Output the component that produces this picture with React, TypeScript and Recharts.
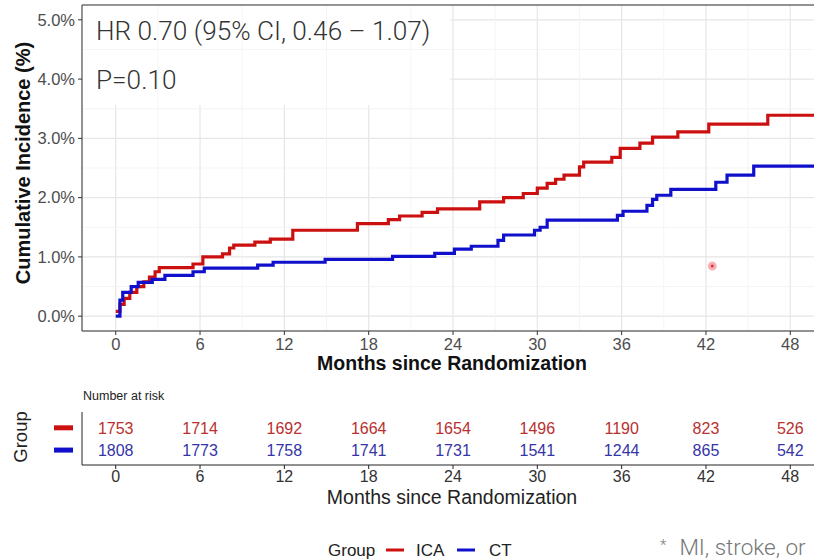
import React from 'react';
import {
  LineChart, Line, XAxis, YAxis, CartesianGrid, ReferenceLine, ReferenceArea, ReferenceDot,
  ScatterChart, Scatter,
} from 'recharts';

// ---------- data ----------
const monthTicks = [0, 6, 12, 18, 24, 30, 36, 42, 48];
const minorMonths = [3, 9, 15, 21, 27, 33, 39, 45];
const pctTicks = [0, 1, 2, 3, 4, 5];
const minorPct = [0.5, 1.5, 2.5, 3.5, 4.5];

const icaTimes = [0, 0.3, 0.6, 1.0, 1.5, 2.0, 2.4, 2.8, 3.1, 5.5, 6.2, 7.6, 8.1, 8.4, 9.9, 11.0, 12.6, 17.2, 19.4, 20.2, 21.8, 22.9, 25.9, 27.6, 29.0, 30.0, 30.7, 31.3, 31.9, 33.0, 33.3, 35.3, 35.9, 37.3, 38.2, 40.0, 42.2, 46.4, 50.4];
const icaValues = [0.08, 0.2, 0.3, 0.4, 0.5, 0.58, 0.66, 0.75, 0.82, 0.88, 1.0, 1.05, 1.15, 1.2, 1.25, 1.3, 1.45, 1.56, 1.63, 1.69, 1.75, 1.81, 1.93, 2.0, 2.07, 2.16, 2.24, 2.31, 2.38, 2.52, 2.6, 2.68, 2.83, 2.92, 3.02, 3.11, 3.24, 3.39, 3.39];

const ctTimes = [0, 0.3, 0.5, 1.1, 1.6, 2.6, 3.5, 5.5, 6.3, 10.1, 11.2, 14.9, 19.7, 22.7, 24.1, 25.3, 27.2, 27.6, 29.8, 30.2, 30.7, 35.7, 36.1, 37.8, 38.2, 38.5, 39.5, 42.7, 43.5, 45.4, 50.4];
const ctValues = [0.0, 0.27, 0.4, 0.5, 0.57, 0.62, 0.69, 0.75, 0.81, 0.86, 0.91, 0.96, 1.01, 1.06, 1.13, 1.18, 1.28, 1.37, 1.45, 1.5, 1.62, 1.7, 1.77, 1.87, 1.97, 2.04, 2.14, 2.26, 2.38, 2.53, 2.53];

const riskICA = [1753, 1714, 1692, 1664, 1654, 1496, 1190, 823, 526];
const riskCT = [1808, 1773, 1758, 1741, 1731, 1541, 1244, 865, 542];

const groupNames = ['ICA', 'CT'];
const hrText = 'HR 0.70 (95% CI, 0.46 \u2013 1.07)';
const pText = 'P=0.10';
const cursorMark = { month: 42.45, pct: 0.845 };

// ---------- styles ----------
const RED = '#cc1010';
const BLUE = '#1010cc';
const RED_TXT = '#b8302f';
const BLUE_TXT = '#3535a8';
const SANS = "'Liberation Sans', Arial, Helvetica, sans-serif";
const NARROW = "'Liberation Sans Narrow', 'Arial Narrow', 'Liberation Sans', sans-serif";
const LIGHT = "Roboto, 'Liberation Sans', sans-serif";

const X_DOMAIN: [number, number] = [-2.4, 50.4];
const Y_DOMAIN: [number, number] = [-0.25, 5.25];

const icaData = icaTimes.map((t, i) => ({ t, v: icaValues[i] }));
const ctData = ctTimes.map((t, i) => ({ t, v: ctValues[i] }));
const riskIcaData = riskICA.map((n, i) => ({ t: monthTicks[i], row: 2, n }));
const riskCtData = riskCT.map((n, i) => ({ t: monthTicks[i], row: 1, n }));

const fmtPct = (v: number) => `${v.toFixed(1)}%`;

const riskText = (color: string) => (p: any) => (
  <text x={p.cx} y={p.cy} dy="0.36em" textAnchor="middle" fontSize={16} fontFamily={NARROW} fill={color}>
    {p.payload.n}
  </text>
);

const groupTick = (p: any) => {
  const color = p.payload.value === 2 ? RED : BLUE;
  return <rect x={p.x - 20} y={p.y - 2.5} width={19} height={5} fill={color} />;
};

export default function App() {
  return (
    <div style={{ position: 'fixed', left: 0, top: 0, width: 814, height: 559, overflow: 'hidden', background: '#fff' }}>
      <div style={{ position: 'absolute', left: 0, top: 0 }}>
        <LineChart width={830} height={375} margin={{ top: 5, right: 6, bottom: 0, left: 12 }}>
          <CartesianGrid stroke="#e6e6e6" strokeWidth={1.2} />
          <XAxis
            type="number"
            dataKey="t"
            domain={X_DOMAIN}
            ticks={monthTicks}
            allowDataOverflow
            height={44}
            tickSize={4}
            tickMargin={3}
            axisLine={{ stroke: '#333' }}
            tickLine={{ stroke: '#333' }}
            tick={{ fontSize: 16.5, fill: '#4d4d4d', fontFamily: SANS }}
          />
          <YAxis
            type="number"
            domain={Y_DOMAIN}
            ticks={pctTicks}
            allowDataOverflow
            width={70}
            tickSize={4}
            tickMargin={3}
            tickFormatter={fmtPct}
            axisLine={{ stroke: '#333' }}
            tickLine={{ stroke: '#333' }}
            tick={{ fontSize: 16.5, fill: '#4d4d4d', fontFamily: SANS }}
          />
          {minorMonths.map((m) => (
            <ReferenceLine key={`mx${m}`} x={m} stroke="#f2f2f2" strokeWidth={0.8} />
          ))}
          {minorPct.map((v) => (
            <ReferenceLine key={`my${v}`} y={v} stroke="#f2f2f2" strokeWidth={0.8} />
          ))}
          <ReferenceArea x1={-2.4} x2={23.8} y1={3.56} y2={5.25} fill="#fff" fillOpacity={1} stroke="none" />
          <ReferenceLine y={5.25} stroke="#333" strokeWidth={1} />
          <Line data={icaData} dataKey="v" name={groupNames[0]} type="stepAfter" stroke={RED} strokeWidth={3.2} dot={false} isAnimationActive={false} />
          <Line data={ctData} dataKey="v" name={groupNames[1]} type="stepAfter" stroke={BLUE} strokeWidth={3.2} dot={false} isAnimationActive={false} />
          <ReferenceDot x={cursorMark.month} y={cursorMark.pct} r={3} fill="#e0303c" stroke="#f6b0b6" strokeWidth={3} />
        </LineChart>
      </div>

      <div style={{ position: 'absolute', left: 0, top: 385 }}>
        <ScatterChart width={830} height={130} margin={{ top: 27, right: 6, bottom: 0, left: 12 }}>
          <XAxis
            type="number"
            dataKey="t"
            domain={X_DOMAIN}
            ticks={monthTicks}
            allowDataOverflow
            height={50}
            tickSize={4}
            tickMargin={2}
            axisLine={{ stroke: '#222' }}
            tickLine={{ stroke: '#222' }}
            tick={{ fontSize: 16, fill: '#333', fontFamily: NARROW }}
          />
          <YAxis
            type="number"
            dataKey="row"
            domain={[0.33, 2.71]}
            ticks={[1, 2]}
            interval={0}
            width={70}
            tickLine={false}
            tickSize={0}
            tickMargin={8}
            axisLine={{ stroke: '#222' }}
            tick={groupTick}
          />
          <Scatter data={riskIcaData} shape={riskText(RED_TXT)} isAnimationActive={false} />
          <Scatter data={riskCtData} shape={riskText(BLUE_TXT)} isAnimationActive={false} />
        </ScatterChart>
      </div>

      <svg width={814} height={559} style={{ position: 'absolute', left: 0, top: 0, pointerEvents: 'none' }}>
        <text x={96} y={40} fontSize={26.2} fontWeight={300} fontFamily={LIGHT} fill="#333">{hrText}</text>
        <text x={96} y={89} fontSize={26.2} fontWeight={300} fontFamily={LIGHT} fill="#333">{pText}</text>
        <text transform="translate(30,163) rotate(-90)" textAnchor="middle" fontSize={20} fontWeight="bold" fontFamily={SANS} fill="#111">
          Cumulative Incidence (%)
        </text>
        <text x={452} y={370} textAnchor="middle" fontSize={19.5} fontWeight="bold" fontFamily={SANS} fill="#111">
          Months since Randomization
        </text>
        <text x={83} y={400} fontSize={12.5} fontFamily={NARROW} fill="#222">Number at risk</text>
        <text transform="translate(27,437) rotate(-90)" textAnchor="middle" fontSize={18.5} fontFamily={SANS} fill="#222">Group</text>
        <text x={452} y={504} textAnchor="middle" fontSize={19.5} fontFamily={NARROW} fill="#222">Months since Randomization</text>

        <text x={328} y={556} fontSize={17} fontFamily={SANS} fill="#222">Group</text>
        <line x1={386} x2={404} y1={550} y2={550} stroke={RED} strokeWidth={3} />
        <text x={416} y={556} fontSize={17} fontFamily={SANS} fill="#222">{groupNames[0]}</text>
        <line x1={457} x2={475} y1={550} y2={550} stroke={BLUE} strokeWidth={3} />
        <text x={489} y={556} fontSize={17} fontFamily={SANS} fill="#222">{groupNames[1]}</text>

        <text x={660} y={555} fontSize={22.5} fontWeight={300} fontFamily={LIGHT} fill="#777">
          <tspan fontSize={15} dy={-5}>*</tspan>
          <tspan dx={13} dy={5}>MI, stroke, or</tspan>
        </text>
      </svg>
    </div>
  );
}
